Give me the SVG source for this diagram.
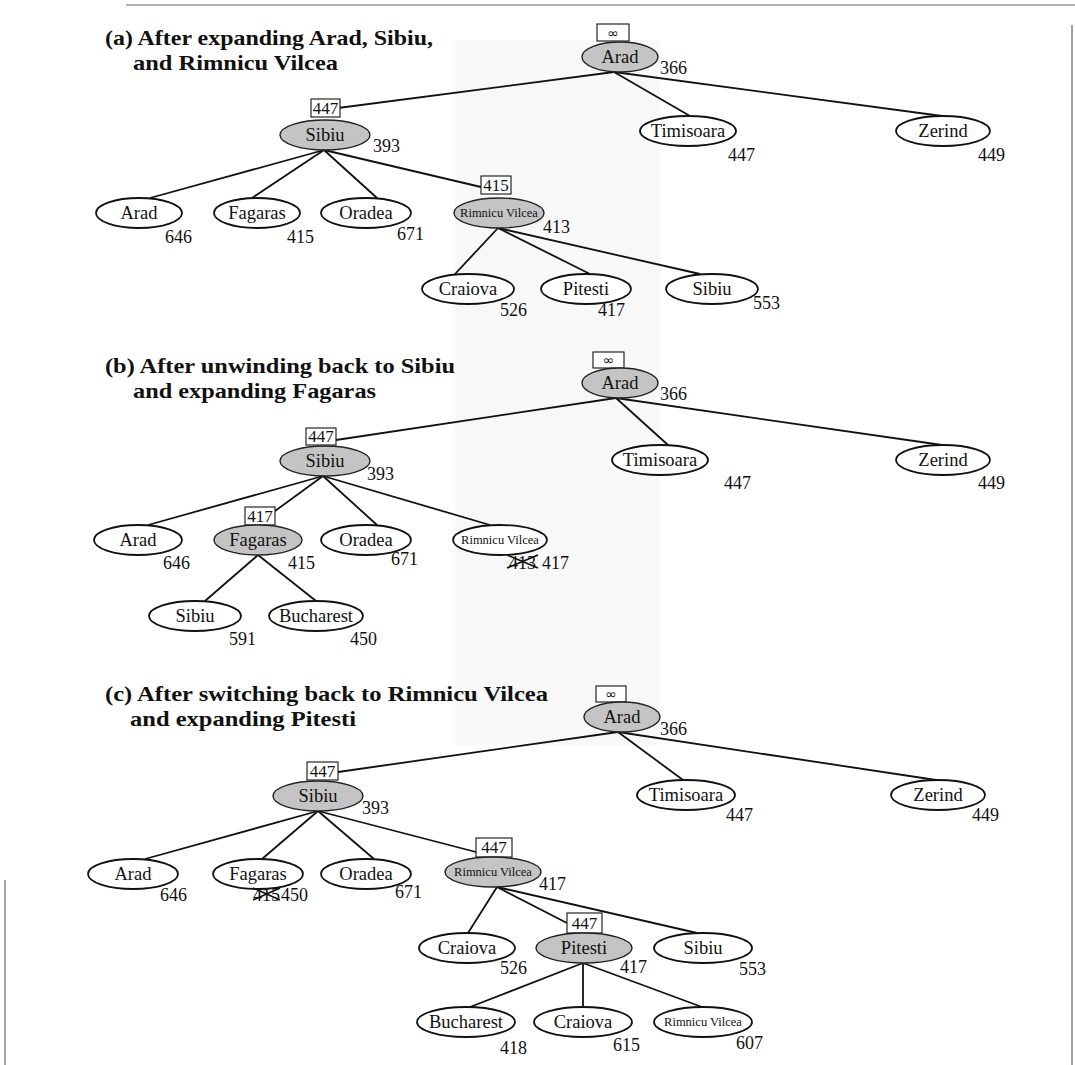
<svg xmlns="http://www.w3.org/2000/svg" width="1075" height="1065" viewBox="0 0 1075 1065">
<style>
.bg{fill:#ffffff}
.band{fill:#f8f8f8}
.title{font-family:"Liberation Serif","Times New Roman",serif;font-weight:bold;font-size:22px;fill:#111}
.n{fill:#ffffff;stroke:#111;stroke-width:1.8}
.g{fill:#c4c4c4;stroke:#222;stroke-width:1.4}
.lbl{font-family:"Liberation Serif","Times New Roman",serif;font-size:18.5px;fill:#111;text-anchor:middle}
.sm{font-family:"Liberation Serif","Times New Roman",serif;font-size:12.5px;fill:#111;text-anchor:middle}
.num{font-family:"Liberation Serif","Times New Roman",serif;font-size:18px;fill:#111}
.box{fill:#ffffff;stroke:#111;stroke-width:1.1}
.bx{font-family:"Liberation Serif","Times New Roman",serif;font-size:17px;fill:#111;text-anchor:middle}
.inf{font-family:"DejaVu Sans",sans-serif;font-size:14px;fill:#111;text-anchor:middle}
.e{stroke:#111;stroke-width:1.8;fill:none}
.x{stroke:#111;stroke-width:1.7}
.border{stroke:#666;stroke-width:1.2;fill:none}
</style>
<rect class="bg" x="0" y="0" width="1075" height="1065"/>
<rect class="band" x="455" y="40" width="205" height="705"/>
<g id="frame">
<line class="border" x1="126" y1="5" x2="1075" y2="5"/>
<line class="border" x1="1072" y1="25" x2="1072" y2="1065"/>
<line class="border" x1="5" y1="880" x2="5" y2="1065"/>
</g>
<g id="titles">
<text class="title" x="105" y="45" textLength="328" lengthAdjust="spacingAndGlyphs">(a) After expanding Arad, Sibiu,</text>
<text class="title" x="133" y="70" textLength="205" lengthAdjust="spacingAndGlyphs">and Rimnicu Vilcea</text>
<text class="title" x="105" y="373" textLength="350" lengthAdjust="spacingAndGlyphs">(b) After unwinding back to Sibiu</text>
<text class="title" x="133" y="398" textLength="243" lengthAdjust="spacingAndGlyphs">and expanding Fagaras</text>
<text class="title" x="105" y="701" textLength="443" lengthAdjust="spacingAndGlyphs">(c) After switching back to Rimnicu Vilcea</text>
<text class="title" x="130" y="726" textLength="226" lengthAdjust="spacingAndGlyphs">and expanding Pitesti</text>
</g>
<g id="connectors">
<line class="e" x1="614" y1="72" x2="338" y2="108"/>
<line class="e" x1="614" y1="72" x2="690" y2="116"/>
<line class="e" x1="614" y1="72" x2="942" y2="116"/>
<line class="e" x1="324" y1="150" x2="150" y2="198"/>
<line class="e" x1="324" y1="150" x2="252" y2="198"/>
<line class="e" x1="324" y1="150" x2="377" y2="198"/>
<line class="e" x1="324" y1="150" x2="481" y2="187"/>
<line class="e" x1="498" y1="228" x2="455" y2="274"/>
<line class="e" x1="498" y1="228" x2="590" y2="274"/>
<line class="e" x1="498" y1="228" x2="700" y2="274"/>
<line class="e" x1="616" y1="398" x2="336" y2="440"/>
<line class="e" x1="616" y1="398" x2="668" y2="445"/>
<line class="e" x1="616" y1="398" x2="942" y2="445"/>
<line class="e" x1="323" y1="476" x2="148" y2="525"/>
<line class="e" x1="323" y1="476" x2="275" y2="511"/>
<line class="e" x1="323" y1="476" x2="377" y2="525"/>
<line class="e" x1="323" y1="476" x2="490" y2="525"/>
<line class="e" x1="258" y1="555" x2="205" y2="601"/>
<line class="e" x1="258" y1="555" x2="316" y2="601"/>
<line class="e" x1="618" y1="732" x2="338" y2="772"/>
<line class="e" x1="618" y1="732" x2="683" y2="780"/>
<line class="e" x1="618" y1="732" x2="936" y2="780"/>
<line class="e" x1="318" y1="811" x2="145" y2="859"/>
<line class="e" x1="318" y1="811" x2="262" y2="859"/>
<line class="e" x1="318" y1="811" x2="374" y2="859"/>
<line class="e" x1="318" y1="811" x2="476" y2="852"/>
<line class="e" x1="497" y1="887" x2="468" y2="933"/>
<line class="e" x1="497" y1="887" x2="567" y2="923"/>
<line class="e" x1="497" y1="887" x2="697" y2="933"/>
<line class="e" x1="583" y1="963" x2="470" y2="1007"/>
<line class="e" x1="583" y1="963" x2="583" y2="1007"/>
<line class="e" x1="583" y1="963" x2="702" y2="1007"/>
</g>
<g id="a-arad">
<rect class="box" x="597" y="24" width="32" height="17"/><text class="inf" x="613" y="38">∞</text>
<ellipse class="g" cx="620" cy="57" rx="38" ry="15"/><text class="lbl" x="620" y="63">Arad</text>
<text class="num" x="660" y="74">366</text>
</g>
<g id="a-timisoara">
<ellipse class="n" cx="688" cy="131" rx="48" ry="15"/><text class="lbl" x="688" y="137">Timisoara</text>
<text class="num" x="728" y="161">447</text>
</g>
<g id="a-zerind">
<ellipse class="n" cx="943" cy="131" rx="47" ry="15"/><text class="lbl" x="943" y="137">Zerind</text>
<text class="num" x="978" y="161">449</text>
</g>
<g id="a-sibiu">
<rect class="box" x="311" y="99" width="29" height="18"/><text class="bx" x="325.5" y="114">447</text>
<ellipse class="g" cx="325" cy="135" rx="45" ry="15"/><text class="lbl" x="325" y="141">Sibiu</text>
<text class="num" x="373" y="152">393</text>
</g>
<g id="a-arad2">
<ellipse class="n" cx="139" cy="213" rx="43" ry="15"/><text class="lbl" x="139" y="219">Arad</text>
<text class="num" x="165" y="243">646</text>
</g>
<g id="a-fagaras">
<ellipse class="n" cx="257" cy="213" rx="43" ry="15"/><text class="lbl" x="257" y="219">Fagaras</text>
<text class="num" x="287" y="243">415</text>
</g>
<g id="a-oradea">
<ellipse class="n" cx="366" cy="213" rx="45" ry="15"/><text class="lbl" x="366" y="219">Oradea</text>
<text class="num" x="397" y="240">671</text>
</g>
<g id="a-rimnicu">
<rect class="box" x="481" y="176" width="30" height="18"/><text class="bx" x="496" y="191">415</text>
<ellipse class="g" cx="499" cy="213" rx="45" ry="15"/><text class="sm" x="499" y="217">Rimnicu Vilcea</text>
<text class="num" x="543" y="233">413</text>
</g>
<g id="a-craiova">
<ellipse class="n" cx="468" cy="289" rx="46" ry="15"/><text class="lbl" x="468" y="295">Craiova</text>
<text class="num" x="500" y="316">526</text>
</g>
<g id="a-pitesti">
<ellipse class="n" cx="586" cy="289" rx="45" ry="15"/><text class="lbl" x="586" y="295">Pitesti</text>
<text class="num" x="598" y="316">417</text>
</g>
<g id="a-sibiu2">
<ellipse class="n" cx="712" cy="289" rx="46" ry="15"/><text class="lbl" x="712" y="295">Sibiu</text>
<text class="num" x="753" y="309">553</text>
</g>
<g id="b-arad">
<rect class="box" x="593" y="352" width="31" height="16"/><text class="inf" x="608.5" y="365">∞</text>
<ellipse class="g" cx="620" cy="383" rx="38" ry="15"/><text class="lbl" x="620" y="389">Arad</text>
<text class="num" x="660" y="400">366</text>
</g>
<g id="b-timisoara">
<ellipse class="n" cx="660" cy="460" rx="48" ry="15"/><text class="lbl" x="660" y="466">Timisoara</text>
<text class="num" x="724" y="489">447</text>
</g>
<g id="b-zerind">
<ellipse class="n" cx="943" cy="460" rx="47" ry="15"/><text class="lbl" x="943" y="466">Zerind</text>
<text class="num" x="978" y="489">449</text>
</g>
<g id="b-sibiu">
<rect class="box" x="306" y="428" width="30" height="17"/><text class="bx" x="321" y="442">447</text>
<ellipse class="g" cx="325" cy="461" rx="45" ry="15"/><text class="lbl" x="325" y="467">Sibiu</text>
<text class="num" x="367" y="480">393</text>
</g>
<g id="b-arad2">
<ellipse class="n" cx="138" cy="540" rx="44" ry="15"/><text class="lbl" x="138" y="546">Arad</text>
<text class="num" x="163" y="569">646</text>
</g>
<g id="b-fagaras">
<rect class="box" x="245" y="507" width="30" height="18"/><text class="bx" x="260" y="522">417</text>
<ellipse class="g" cx="258" cy="540" rx="44" ry="15"/><text class="lbl" x="258" y="546">Fagaras</text>
<text class="num" x="288" y="569">415</text>
</g>
<g id="b-oradea">
<ellipse class="n" cx="366" cy="540" rx="45" ry="15"/><text class="lbl" x="366" y="546">Oradea</text>
<text class="num" x="391" y="565">671</text>
</g>
<g id="b-rimnicu">
<ellipse class="n" cx="500" cy="540" rx="47" ry="15"/><text class="sm" x="500" y="544">Rimnicu Vilcea</text>
<text class="num" x="509" y="569">413</text>
<line class="x" x1="507" y1="555" x2="538" y2="568"/>
<line class="x" x1="507" y1="568" x2="538" y2="555"/>
<text class="num" x="542" y="569">417</text>
</g>
<g id="b-sibiu2">
<ellipse class="n" cx="195" cy="616" rx="46" ry="15"/><text class="lbl" x="195" y="622">Sibiu</text>
<text class="num" x="229" y="645">591</text>
</g>
<g id="b-bucharest">
<ellipse class="n" cx="316" cy="616" rx="47" ry="15"/><text class="lbl" x="316" y="622">Bucharest</text>
<text class="num" x="350" y="645">450</text>
</g>
<g id="c-arad">
<rect class="box" x="596" y="686" width="30" height="16"/><text class="inf" x="611" y="699">∞</text>
<ellipse class="g" cx="622" cy="717" rx="38" ry="15"/><text class="lbl" x="622" y="723">Arad</text>
<text class="num" x="660" y="735">366</text>
</g>
<g id="c-timisoara">
<ellipse class="n" cx="686" cy="795" rx="49" ry="15"/><text class="lbl" x="686" y="801">Timisoara</text>
<text class="num" x="726" y="821">447</text>
</g>
<g id="c-zerind">
<ellipse class="n" cx="938" cy="795" rx="47" ry="15"/><text class="lbl" x="938" y="801">Zerind</text>
<text class="num" x="972" y="821">449</text>
</g>
<g id="c-sibiu">
<rect class="box" x="307" y="762" width="31" height="18"/><text class="bx" x="322.5" y="777">447</text>
<ellipse class="g" cx="318" cy="796" rx="45" ry="15"/><text class="lbl" x="318" y="802">Sibiu</text>
<text class="num" x="362" y="814">393</text>
</g>
<g id="c-arad2">
<ellipse class="n" cx="133" cy="874" rx="45" ry="15"/><text class="lbl" x="133" y="880">Arad</text>
<text class="num" x="160" y="901">646</text>
</g>
<g id="c-fagaras">
<ellipse class="n" cx="258" cy="874" rx="45" ry="15"/><text class="lbl" x="258" y="880">Fagaras</text>
<text class="num" x="253" y="901">415</text>
<line class="x" x1="253" y1="888" x2="280" y2="900"/>
<line class="x" x1="253" y1="900" x2="280" y2="888"/>
<text class="num" x="281" y="901">450</text>
</g>
<g id="c-oradea">
<ellipse class="n" cx="366" cy="874" rx="45" ry="15"/><text class="lbl" x="366" y="880">Oradea</text>
<text class="num" x="395" y="898">671</text>
</g>
<g id="c-rimnicu">
<rect class="box" x="476" y="838" width="36" height="19"/><text class="bx" x="494" y="853">447</text>
<ellipse class="g" cx="493" cy="872" rx="48" ry="15"/><text class="sm" x="493" y="876">Rimnicu Vilcea</text>
<text class="num" x="539" y="890">417</text>
</g>
<g id="c-craiova">
<ellipse class="n" cx="467" cy="948" rx="48" ry="15"/><text class="lbl" x="467" y="954">Craiova</text>
<text class="num" x="500" y="974">526</text>
</g>
<g id="c-pitesti">
<rect class="box" x="567" y="913" width="35" height="20"/><text class="bx" x="584.5" y="929">447</text>
<ellipse class="g" cx="584" cy="948" rx="48" ry="15"/><text class="lbl" x="584" y="954">Pitesti</text>
<text class="num" x="620" y="973">417</text>
</g>
<g id="c-sibiu2">
<ellipse class="n" cx="703" cy="948" rx="49" ry="15"/><text class="lbl" x="703" y="954">Sibiu</text>
<text class="num" x="739" y="975">553</text>
</g>
<g id="c-bucharest">
<ellipse class="n" cx="466" cy="1022" rx="49" ry="15"/><text class="lbl" x="466" y="1028">Bucharest</text>
<text class="num" x="500" y="1054">418</text>
</g>
<g id="c-craiova2">
<ellipse class="n" cx="583" cy="1022" rx="49" ry="15"/><text class="lbl" x="583" y="1028">Craiova</text>
<text class="num" x="613" y="1051">615</text>
</g>
<g id="c-rimnicu2">
<ellipse class="n" cx="703" cy="1022" rx="49" ry="15"/><text class="sm" x="703" y="1026">Rimnicu Vilcea</text>
<text class="num" x="736" y="1049">607</text>
</g>
</svg>
